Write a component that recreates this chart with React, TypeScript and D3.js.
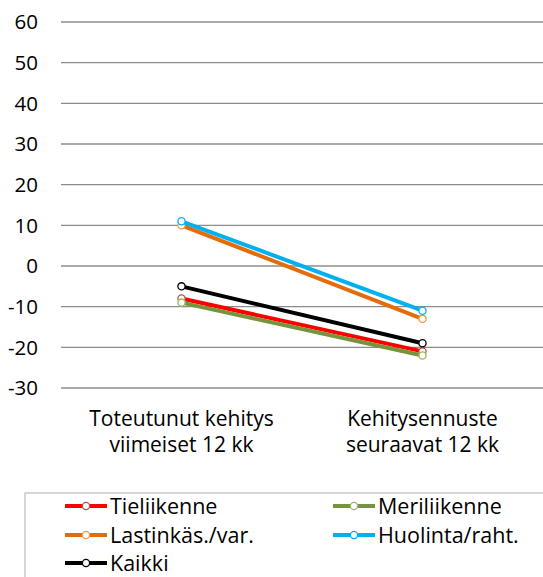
import React from "react";
import * as d3 from "d3";

const categories = [["Toteutunut kehitys", "viimeiset 12 kk"], ["Kehitysennuste", "seuraavat 12 kk"]];
const seriesNames = ["Tieliikenne", "Meriliikenne", "Lastinkäs./var.", "Huolinta/raht.", "Kaikki"];
const tieliikenne = [-8, -21];
const meriliikenne = [-9, -22];
const lastinkas = [10, -13];
const huolinta = [11, -11];
const kaikki = [-5, -19];
const yTicks = [60, 50, 40, 30, 20, 10, 0, -10, -20, -30];

const lineColors = ["#FF0000", "#77933C", "#E46C0A", "#00B0F0", "#000000"];
const markerColors = ["#C0504D", "#9BBB59", "#F79646", "#00B0F0", "#000000"];

export default function App() {
  const W = 543, H = 577;
  const font = "'Open Sans', sans-serif";
  const x = d3.scaleBand<number>().domain([0, 1]).range([61, 543]);
  const y = d3.scaleLinear().domain([-30, 60]).range([388, 22]);
  const cx = (i: number) => (x(i) as number) + x.bandwidth() / 2;
  const allSeries = [tieliikenne, meriliikenne, lastinkas, huolinta, kaikki];
  const line = d3.line<number>().x((_, i) => cx(i)).y((v) => y(v));

  const legendPos = [
    [65, 506], [333, 506], [65, 535], [333, 535], [65, 563],
  ];

  return (
    <svg width={W} height={H} style={{ position: "absolute", left: 0, top: 0 }} fontFamily={font}>
      <rect width={W} height={H} fill="#fff" />
      {yTicks.map((t) => (
        <g key={t}>
          <line x1={61} x2={543} y1={y(t)} y2={y(t)} stroke="#8C8C8C" strokeWidth={1.3} />
          <text x={38} y={y(t)} dy="0.36em" textAnchor="end" fontSize={20.5} fill="#000">{t}</text>
        </g>
      ))}
      {allSeries.map((s, k) => (
        <g key={k}>
          <path d={line(s) || ""} fill="none" stroke={lineColors[k]} strokeWidth={4} />
          {s.map((v, i) => (
            <circle key={i} cx={cx(i)} cy={y(v)} r={3.6} fill="#fff" stroke={markerColors[k]} strokeWidth={1.3} />
          ))}
        </g>
      ))}
      {categories.map((c, i) => (
        <text key={i} x={cx(i)} textAnchor="middle" fontSize={21} fill="#000">
          <tspan x={cx(i)} y={426}>{c[0]}</tspan>
          <tspan x={cx(i)} y={452}>{c[1]}</tspan>
        </text>
      ))}
      <rect x={25} y={493} width={530} height={100} fill="none" stroke="#BBB" strokeWidth={1.2} />
      {seriesNames.map((n, k) => {
        const [lx, ly] = legendPos[k];
        return (
          <g key={n}>
            <line x1={lx} x2={lx + 42} y1={ly} y2={ly} stroke={lineColors[k]} strokeWidth={4} />
            <circle cx={lx + 21} cy={ly} r={3.6} fill="#fff" stroke={markerColors[k]} strokeWidth={1.3} />
            <text x={lx + 45} y={ly} dy="0.36em" fontSize={21.5} fill="#000">{n}</text>
          </g>
        );
      })}
    </svg>
  );
}
